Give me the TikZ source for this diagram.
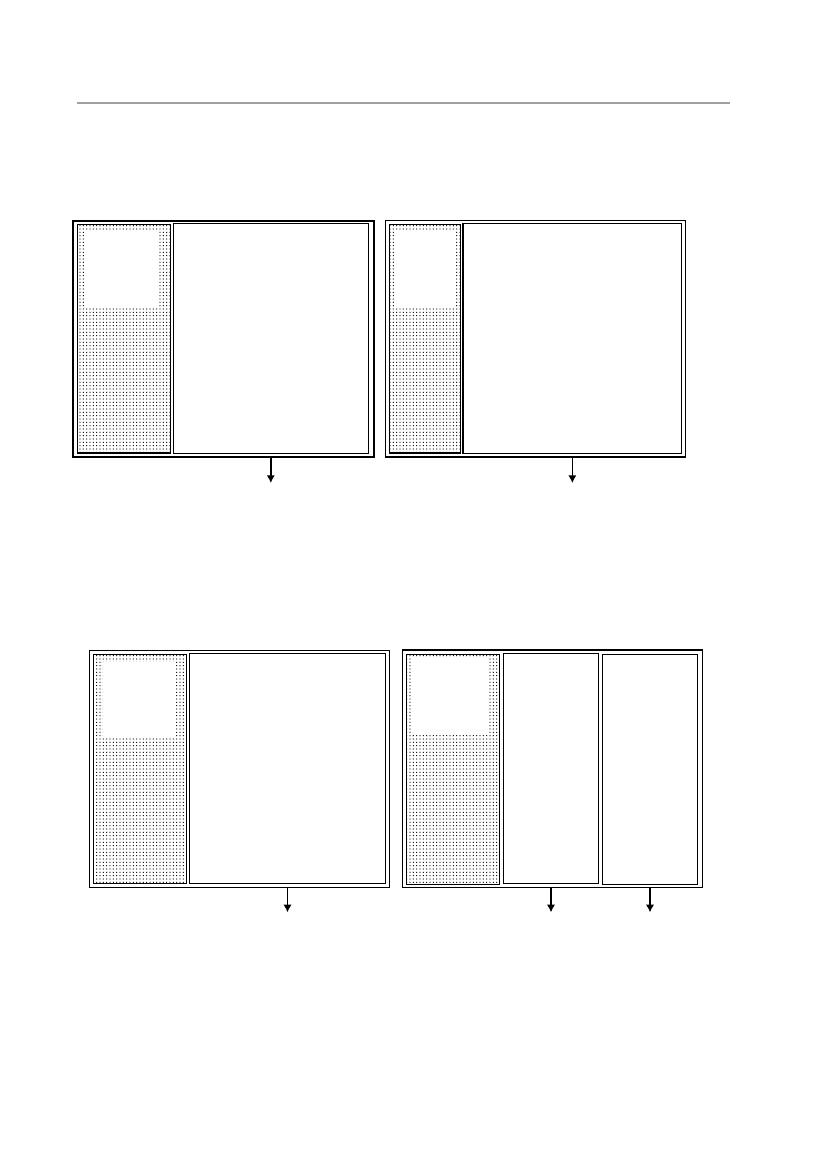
\documentclass[tikz,border=0pt]{standalone}
\usetikzlibrary{patterns,fit,arrows.meta}
\pgfdeclarepatternformonly{finedots}{\pgfqpoint{-1pt}{-1pt}}{\pgfqpoint{1pt}{1pt}}{\pgfqpoint{2.4pt}{2.4pt}}{\pgfpathcircle{\pgfpointorigin}{0.45pt}\pgfusepath{fill}}
\definecolor{rulegray}{RGB}{160,160,160}
\tikzset{
  frame/.style={draw, line width=0.9pt, inner sep=0pt, outer sep=0pt},
  menu/.style={frame, pattern=finedots},
  hole/.style={fill=white, inner sep=0pt, outer sep=0pt},
  outarrow/.style={->, >={Latex[length=5.5pt,width=6pt]}, line width=1.2pt},
}
\begin{document}
\begin{tikzpicture}[x=0.72pt, y=-0.72pt]
        \useasboundingbox (0,0) rectangle (826,1169);
        \draw[rulegray, line width=1.2pt] (77,103) -- (730,103);

        % top left window
        \node[frame, fit={(73,221) (374,457)}] (w1) {};
        \node[menu, fit={(77.3,224.3) (170.3,453)}] (m1) {};
        \node[hole, fit={(86,230) (159,307)}] (h1) {};
        \node[frame, fit={(173.3,223.3) (368.3,453.3)}] (b1) {};
        \draw[outarrow] (b1.south |- w1.south) -- ++(0,26) coordinate (e1);

        % top right window
        \node[frame, fit={(385.3,220.7) (685.7,457)}] (w2) {};
        \node[menu, fit={(389.3,224.3) (460.7,453)}] (m2) {};
        \node[hole, fit={(395,230) (455,307)}] (h2) {};
        \node[frame, fit={(463,223.3) (681.7,453.3)}] (b2) {};
        \draw[outarrow] (b2.south |- w2.south) -- ++(0,26) coordinate (e2);

        % bottom left window
        \node[frame, fit={(89.3,650.3) (389.7,887.3)}] (w3) {};
        \node[menu, fit={(93.3,654.3) (186.7,883.3)}] (m3) {};
        \node[hole, fit={(102.7,662) (176,738)}] (h3) {};
        \node[frame, fit={(189.3,653.3) (385.7,883.3)}] (b3) {};
        \draw[outarrow] (b3.south |- w3.south) -- ++(0,25) coordinate (e3);

        % bottom right window
        \node[frame, fit={(402.3,650) (702.3,887.3)}] (w4) {};
        \node[menu, fit={(406.3,654.3) (499.7,884.3)}] (m4) {};
        \node[hole, fit={(411.7,657) (489.3,733.3)}] (h4) {};
        \node[frame, fit={(503.3,653.3) (598.7,883.3)}] (b4) {};
        \node[frame, fit={(602.3,654.3) (697.7,884.3)}] (c4) {};
        \draw[outarrow] (b4.south |- w4.south) -- ++(0,25) coordinate (e4);
        \draw[outarrow] (c4.south |- w4.south) -- ++(0,25) coordinate (f4);
      \end{tikzpicture}
\end{document}
